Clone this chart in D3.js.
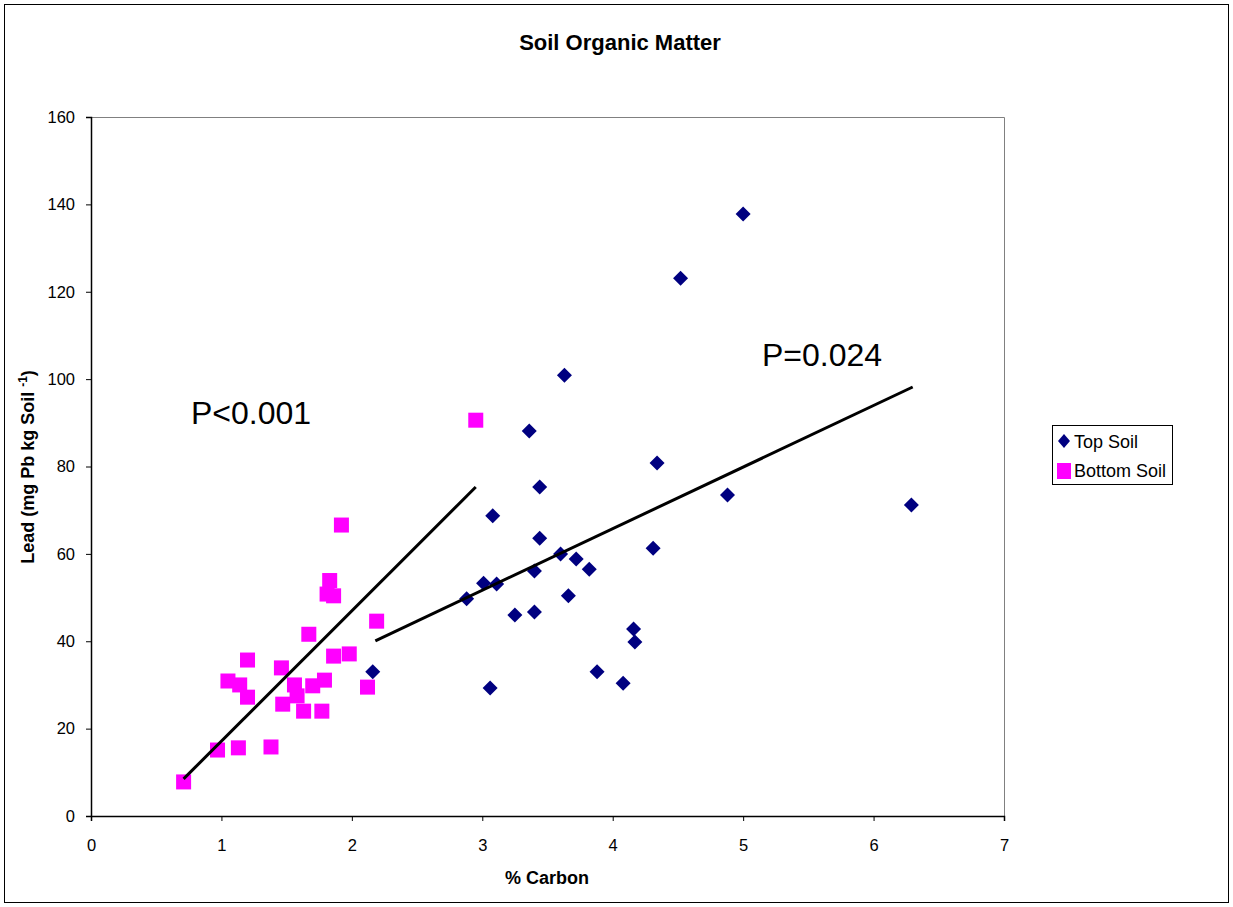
<!DOCTYPE html>
<html>
<head>
<meta charset="utf-8">
<script src="https://cdn.jsdelivr.net/npm/d3@7"></script>
<style>
  body { margin: 0; background: #fff; }
  text { font-family: "Liberation Sans", Arial, sans-serif; }
</style>
</head>
<body>
<div id="chart"></div>
<script>
// % carbon / lead values
var topCarbon = [5.00, 4.52, 3.63, 3.36, 4.34, 3.44, 4.88, 6.29, 3.08, 3.44, 4.31, 3.60, 3.72, 3.82,
                 3.40, 3.01, 3.11, 2.88, 3.66, 3.25, 3.40, 4.16, 4.17, 2.16, 3.88, 4.08, 3.06];
var topLead   = [137.8, 123.1, 100.9, 88.1, 80.8, 75.3, 73.5, 71.2, 68.7, 63.6, 61.3, 60.0, 58.8, 56.5,
                 56.1, 53.3, 53.1, 49.7, 50.4, 46.0, 46.7, 42.8, 39.8, 33.0, 33.0, 30.4, 29.3];

var bottomCarbon = [2.95, 1.92, 1.83, 1.81, 1.86, 2.19, 1.67, 1.20, 1.98, 1.86, 1.46, 1.05, 1.14,
                    1.20, 1.56, 1.79, 1.70, 2.12, 1.47, 1.58, 1.63, 1.77, 0.97, 1.13, 1.38, 0.71];
var bottomLead   = [90.6, 66.6, 53.9, 50.8, 50.4, 44.6, 41.6, 35.7, 37.1, 36.6, 33.9, 30.9, 30.0,
                    27.2, 30.0, 31.1, 29.8, 29.5, 25.6, 27.5, 24.0, 24.0, 15.1, 15.6, 15.8, 7.8];

// linear trend line end points [carbon, lead]
var topTrend = [[2.18, 40.1], [6.30, 98.2]];
var bottomTrend = [[0.71, 8.5], [2.95, 75.3]];

var xTicks = [0, 1, 2, 3, 4, 5, 6, 7];
var yTicks = [0, 20, 40, 60, 80, 100, 120, 140, 160];

var W = 1233, H = 907;
var margin = {top: 117, left: 91, right: 229, bottom: 91};
var width = W - margin.left - margin.right,
    height = H - margin.top - margin.bottom;

var svg = d3.select("#chart").append("svg")
    .attr("width", W)
    .attr("height", H);

// outer frame
svg.append("rect")
    .attr("x", 4.5).attr("y", 4.5)
    .attr("width", W - 9).attr("height", H - 9)
    .attr("fill", "none").attr("stroke", "#000").attr("stroke-width", 1);

svg.append("text")
    .attr("x", 620).attr("y", 50)
    .attr("text-anchor", "middle")
    .style("font-size", "22px").style("font-weight", "bold")
    .text("Soil Organic Matter");

var g = svg.append("g")
    .attr("transform", "translate(" + margin.left + "," + margin.top + ")");

var x = d3.scaleLinear().domain([0, 7]).range([0, width]);
var y = d3.scaleLinear().domain([0, 160]).range([height, 0]);

// plot frame top/right
g.append("path")
    .attr("d", "M0,0.5H" + (width + 0.5) + "V" + height)
    .attr("fill", "none").attr("stroke", "#808080");

var xAxis = g.append("g")
    .attr("transform", "translate(0," + height + ")")
    .call(d3.axisBottom(x).tickValues(xTicks).tickSize(5).tickPadding(18).tickFormat(d3.format("d")));
var yAxis = g.append("g")
    .call(d3.axisLeft(y).tickValues(yTicks).tickSize(5).tickPadding(11).tickFormat(d3.format("d")));

[xAxis, yAxis].forEach(function(a) {
  a.selectAll("text").style("font-size", "16.5px").attr("fill", "#000")
      .style("font-family", "Liberation Sans, Arial, sans-serif");
  a.select(".domain").attr("stroke", "#000").attr("stroke-width", 1.5);
  a.selectAll(".tick line").attr("stroke", "#000");
});

// axis titles
svg.append("text")
    .attr("x", 547).attr("y", 884)
    .attr("text-anchor", "middle")
    .style("font-size", "18px").style("font-weight", "bold")
    .text("% Carbon");

var yl = svg.append("text")
    .attr("transform", "translate(34,467) rotate(-90)")
    .attr("text-anchor", "middle")
    .style("font-size", "18px").style("font-weight", "bold");
yl.append("tspan").text("Lead (mg Pb kg Soil ");
yl.append("tspan").attr("dy", -7).style("font-size", "12px").text("-1");
yl.append("tspan").attr("dy", 7).text(")");

// top soil diamonds
var topData = d3.zip(topCarbon, topLead);
g.selectAll(".top").data(topData).enter().append("path")
    .attr("class", "top")
    .attr("d", "M0,-7.5L7.5,0L0,7.5L-7.5,0Z")
    .attr("transform", function(d) { return "translate(" + x(d[0]) + "," + y(d[1]) + ")"; })
    .attr("fill", "#000080");

// bottom soil squares
var bottomData = d3.zip(bottomCarbon, bottomLead);
g.selectAll(".bottom").data(bottomData).enter().append("rect")
    .attr("class", "bottom")
    .attr("x", function(d) { return x(d[0]) - 7.5; })
    .attr("y", function(d) { return y(d[1]) - 7.5; })
    .attr("width", 15).attr("height", 15)
    .attr("fill", "#ff00ff");

// trend lines
var line = d3.line().x(function(d) { return x(d[0]); }).y(function(d) { return y(d[1]); });
[topTrend, bottomTrend].forEach(function(t) {
  g.append("path").attr("d", line(t))
      .attr("fill", "none").attr("stroke", "#000").attr("stroke-width", 3);
});

// annotations
svg.append("text").attr("x", 191).attr("y", 424)
    .style("font-size", "32px").text("P<0.001");
svg.append("text").attr("x", 762).attr("y", 366)
    .style("font-size", "32px").text("P=0.024");

// legend
var lg = svg.append("g").attr("transform", "translate(1052,425)");
lg.append("rect").attr("x", 0.5).attr("y", 0.5).attr("width", 120).attr("height", 59)
    .attr("fill", "#fff").attr("stroke", "#000");
lg.append("path").attr("d", "M12,9L18,16L12,23L6,16Z").attr("fill", "#000080");
lg.append("rect").attr("x", 5).attr("y", 38).attr("width", 14).attr("height", 16).attr("fill", "#ff00ff");
lg.append("text").attr("x", 22).attr("y", 23).style("font-size", "18px").text("Top Soil");
lg.append("text").attr("x", 22).attr("y", 52).style("font-size", "18px").text("Bottom Soil");
</script>
</body>
</html>
